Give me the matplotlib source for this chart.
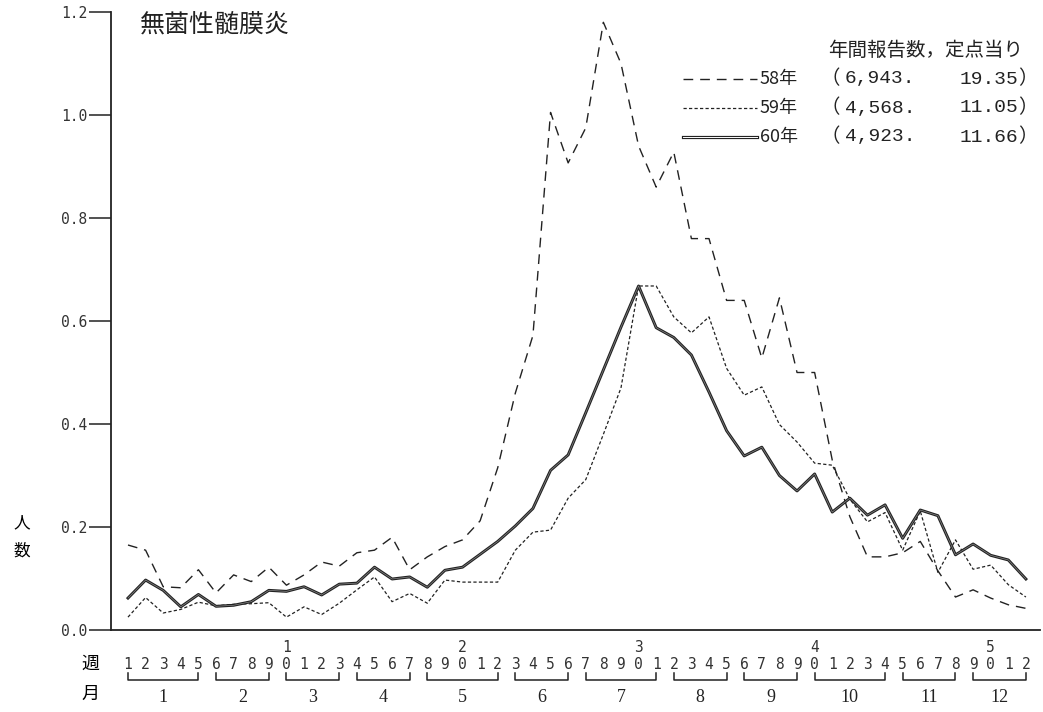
import numpy as np
import matplotlib
matplotlib.use('Agg')
import matplotlib.pyplot as plt
from matplotlib.lines import Line2D

plt.rcParams['font.family'] = ['Noto Sans CJK JP', 'DejaVu Sans']

# 週別 定点当り報告数
weeks = np.arange(1, 53)
y58 = [0.165, 0.155, 0.084, 0.082, 0.117, 0.072, 0.107, 0.094, 0.122, 0.087,
       0.107, 0.132, 0.124, 0.150, 0.155, 0.180, 0.117, 0.142, 0.162, 0.175,
       0.212, 0.315, 0.460, 0.572, 1.005, 0.907, 0.975, 1.180, 1.100, 0.940,
       0.860, 0.928, 0.760, 0.760, 0.640, 0.640, 0.528, 0.645, 0.500, 0.500,
       0.330, 0.220, 0.142, 0.142, 0.150, 0.172, 0.115, 0.064, 0.078, 0.062,
       0.049, 0.042]
y59 = [0.025, 0.063, 0.033, 0.040, 0.054, 0.047, 0.050, 0.051, 0.053, 0.025,
       0.045, 0.030, 0.052, 0.078, 0.103, 0.055, 0.071, 0.052, 0.097, 0.093,
       0.093, 0.093, 0.155, 0.190, 0.194, 0.256, 0.292, 0.380, 0.470, 0.668,
       0.668, 0.608, 0.577, 0.608, 0.508, 0.456, 0.472, 0.399, 0.365, 0.324,
       0.320, 0.254, 0.210, 0.228, 0.155, 0.231, 0.112, 0.175, 0.118, 0.126,
       0.088, 0.064]
y60 = [0.062, 0.097, 0.077, 0.045, 0.069, 0.046, 0.048, 0.055, 0.077, 0.075,
       0.084, 0.068, 0.089, 0.091, 0.122, 0.099, 0.103, 0.083, 0.116, 0.122,
       0.147, 0.172, 0.202, 0.236, 0.310, 0.340, 0.422, 0.505, 0.588, 0.668,
       0.587, 0.568, 0.534, 0.462, 0.387, 0.338, 0.355, 0.300, 0.270, 0.303,
       0.229, 0.256, 0.223, 0.243, 0.178, 0.233, 0.222, 0.146, 0.167, 0.145,
       0.136, 0.099]

months = ['1', '2', '3', '4', '5', '6', '7', '8', '9', '10', '11', '12']
month_start = [1, 6, 10, 14, 18, 23, 27, 32, 36, 40, 45, 49]
month_end = [5, 9, 13, 17, 22, 26, 31, 35, 39, 44, 48, 52]

legend_years = ['58年', '59年', '60年']
legend_counts = ['6,943.', '4,568.', '4,923.']
legend_rates = ['19.35', '11.05', '11.66']

yticks = [0.0, 0.2, 0.4, 0.6, 0.8, 1.0, 1.2]

W, H = 1043, 712
fig = plt.figure(figsize=(W / 100, H / 100), dpi=100)
ax = fig.add_axes([111 / W, 1 - 630 / H, 929 / W, 618 / H])
ax.set_xlim(0.035, 52.8)
ax.set_ylim(0, 1.2)

for s in ['top', 'right']:
    ax.spines[s].set_visible(False)
for s in ['left', 'bottom']:
    ax.spines[s].set_linewidth(1.3)
    ax.spines[s].set_color('#222222')

ax.set_xticks([])
ax.set_yticks(yticks)
ax.set_yticklabels(['%.1f' % v for v in yticks], family='DejaVu Sans Mono',
                   fontsize=10.5, color='#333333')
ax.tick_params(axis='y', direction='out', length=16, width=1.1, pad=1,
               color='#222222')

# 系列
ax.plot(weeks, y58, color='#222222', lw=1.0, ls=(0, (7, 5)))
ax.plot(weeks, y59, color='#222222', lw=0.9, ls=(0, (2.6, 1.8)))
ax.plot(weeks, y60, color='#222222', lw=2.1)
ax.plot(weeks, y60, color='#888888', lw=0.5)

# 週・月 ラベル
tr = ax.get_xaxis_transform()
for w in weeks:
    ax.text(w, -0.056, str(w % 10), transform=tr, ha='center', va='center',
            fontsize=10.5, family='DejaVu Sans Mono', color='#333333')
    if w % 10 == 0:
        ax.text(w, -0.028, str(w // 10), transform=tr, ha='center',
                va='center', fontsize=10.5, family='DejaVu Sans Mono',
                color='#333333')
for m, a, b in zip(months, month_start, month_end):
    ax.plot([a, a, b, b], [-0.0696, -0.081, -0.081, -0.0696], transform=tr,
            clip_on=False, color='#222222', lw=1.1)
    ax.text((a + b) / 2, -0.110, m, transform=tr, ha='center', va='center',
            fontsize=13, family=['Liberation Serif', 'Noto Sans CJK JP'],
            color='#222222')
fig.text(90 / W, 1 - 664 / H, '週', fontsize=13, ha='center', va='center')
fig.text(90 / W, 1 - 694 / H, '月', fontsize=13, ha='center', va='center')

# 縦軸ラベル
fig.text(22 / W, 1 - 537 / H, '人\n数', fontsize=12, ha='center',
         va='center', linespacing=1.9)

# タイトル
fig.text(140 / W, 1 - 25 / H, '無菌性髄膜炎', fontsize=18, ha='left',
         va='center', color='#222222')

# 凡例
fig.text(828 / W, 1 - 50 / H, '年間報告数，定点当り', fontsize=14, ha='left',
         va='center', color='#222222')
row_y = [79, 108, 137]
styles = [dict(color='#222222', lw=1.0, ls=(0, (7, 5))),
          dict(color='#222222', lw=0.9, ls=(0, (2.6, 1.8))),
          dict(color='#222222', lw=2.3)]
num_family = ['Liberation Mono', 'Noto Sans CJK JP']
for i in range(3):
    yy = 1 - row_y[i] / H
    fig.add_artist(Line2D([683 / W, 757 / W], [yy, yy],
                          transform=fig.transFigure, **styles[i]))
    if i == 2:
        fig.add_artist(Line2D([683 / W, 757 / W], [yy, yy],
                              transform=fig.transFigure, color='white',
                              lw=0.7))
    fig.text(760 / W, yy, legend_years[i], fontsize=13, ha='left',
             va='center', color='#222222')
    fig.text(820 / W, yy, '（', fontsize=14, ha='left', va='center',
             color='#222222')
    fig.text(845 / W, yy, legend_counts[i], family=num_family, fontsize=14,
             ha='left', va='center', color='#222222')
    fig.text(1018 / W, yy, legend_rates[i], family=num_family, fontsize=14,
             ha='right', va='center', color='#222222')
    fig.text(1018 / W, yy, '）', fontsize=14, ha='left', va='center',
             color='#222222')

fig.savefig('out.png', dpi=100)
